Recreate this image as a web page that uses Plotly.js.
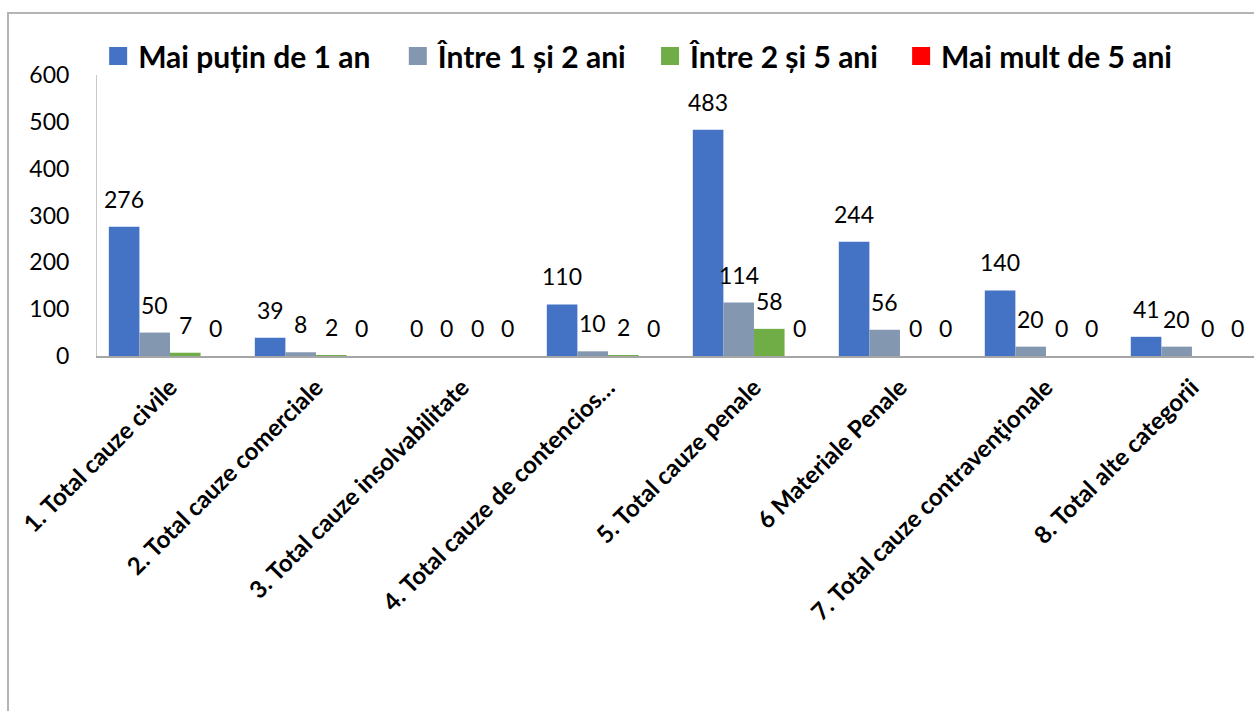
<!DOCTYPE html>
<html>
<head>
<meta charset="utf-8">
<script src="https://cdn.plot.ly/plotly-3.0.1.min.js"></script>
<style>
  html, body { margin: 0; padding: 0; background: #fff; overflow: hidden; }
  #frame { position: absolute; left: 7px; top: 12px; width: 1400px; height: 900px;
           border-left: 2px solid #b4b4b4; border-top: 2px solid #b4b4b4; }
  #chart { position: absolute; left: 0; top: 0; width: 1254px; height: 711px; }
</style>
</head>
<body>
<div id="frame"></div>
<div id="chart"></div>
<script>
const categories = [
  "1. Total cauze civile",
  "2. Total cauze comerciale",
  "3. Total cauze insolvabilitate",
  "4. Total cauze de contencios…",
  "5. Total cauze penale",
  "6 Materiale Penale",
  "7. Total cauze contravenţionale",
  "8. Total alte categorii"
];
const seriesNames = ["Mai puțin de 1 an", "Între 1 și 2 ani", "Între 2 și 5 ani", "Mai mult de 5 ani"];
const lessThan1 = [276, 39, 0, 110, 483, 244, 140, 41];
const between1and2 = [50, 8, 0, 10, 114, 56, 20, 20];
const between2and5 = [7, 2, 0, 2, 58, 0, 0, 0];
const moreThan5 = [0, 0, 0, 0, 0, 0, 0, 0];
const yTicks = [0, 100, 200, 300, 400, 500, 600];

const seriesValues = [lessThan1, between1and2, between2and5, moreThan5];
const colors = ["#4472C4", "#8497B0", "#70AD47", "#FF0000"];
const legendIds = ["legend", "legend2", "legend3", "legend4"];
const legendX = [0.001, 0.260, 0.478, 0.695];

const W = 1254, H = 711, ML = 97, MR = 0, MT = 75, MB = 355;
const xRange = [-0.5, 7.425];
const bargap = 0.162;
const pxPerCat = (W - ML - MR) / (xRange[1] - xRange[0]);
const barPx = pxPerCat * (1 - bargap) / 4;
const FONT = "Lato, 'Open Sans', sans-serif";

const traces = seriesValues.map((vals, i) => ({
  type: "bar",
  name: seriesNames[i],
  x: categories,
  y: vals,
  marker: { color: colors[i] },
  legend: legendIds[i],
  hoverinfo: "x+y+name"
}));

const annotations = [];
seriesValues.forEach((vals, i) => {
  vals.forEach((v, j) => {
    annotations.push({
      x: categories[j], y: v, xref: "x", yref: "y",
      text: String(v), showarrow: false,
      yanchor: "bottom", xanchor: "center",
      xshift: (i - 1.5) * barPx, yshift: 12,
      font: { family: FONT, size: 23, color: "#000" }
    });
  });
});

const layout = {
  width: W, height: H,
  margin: { l: ML, r: MR, t: MT, b: MB, pad: 0 },
  paper_bgcolor: "rgba(0,0,0,0)",
  plot_bgcolor: "rgba(0,0,0,0)",
  barmode: "group",
  bargap: bargap,
  bargroupgap: 0,
  font: { family: FONT, color: "#000" },
  xaxis: {
    type: "category",
    range: xRange,
    showline: true, linecolor: "#a6a6a6", linewidth: 2,
    showgrid: false, zeroline: false,
    ticks: "outside", ticklen: 6, tickcolor: "rgba(0,0,0,0)",
    tickangle: -45,
    tickfont: { family: FONT, size: 24, color: "#000", weight: "bold" }
  },
  yaxis: {
    range: [0, 600],
    tickvals: yTicks,
    ticktext: yTicks.map(String),
    showline: true, linecolor: "#c8c8c8", linewidth: 1,
    showgrid: false, zeroline: false,
    ticks: "outside", ticklen: 22, tickcolor: "rgba(0,0,0,0)",
    tickfont: { family: FONT, size: 23, color: "#000" }
  },
  annotations: annotations,
  showlegend: true
};
legendIds.forEach((id, i) => {
  layout[id] = {
    orientation: "h",
    x: legendX[i], xanchor: "left",
    y: 1 + (MT - 56) / (H - MT - MB), yanchor: "middle",
    bgcolor: "rgba(0,0,0,0)",
    font: { family: FONT, size: 30, color: "#000", weight: "bold" }
  };
});

Plotly.newPlot("chart", traces, layout, { displayModeBar: false, responsive: false }).then(gd => {
  gd.querySelectorAll(".legendpoints path.legendundefined, .legendpoints .legendbar path, .legendpoints path").forEach(p => {
    p.setAttribute("d", "M9,9H-9V-9H9Z");
  });
});
</script>
</body>
</html>
